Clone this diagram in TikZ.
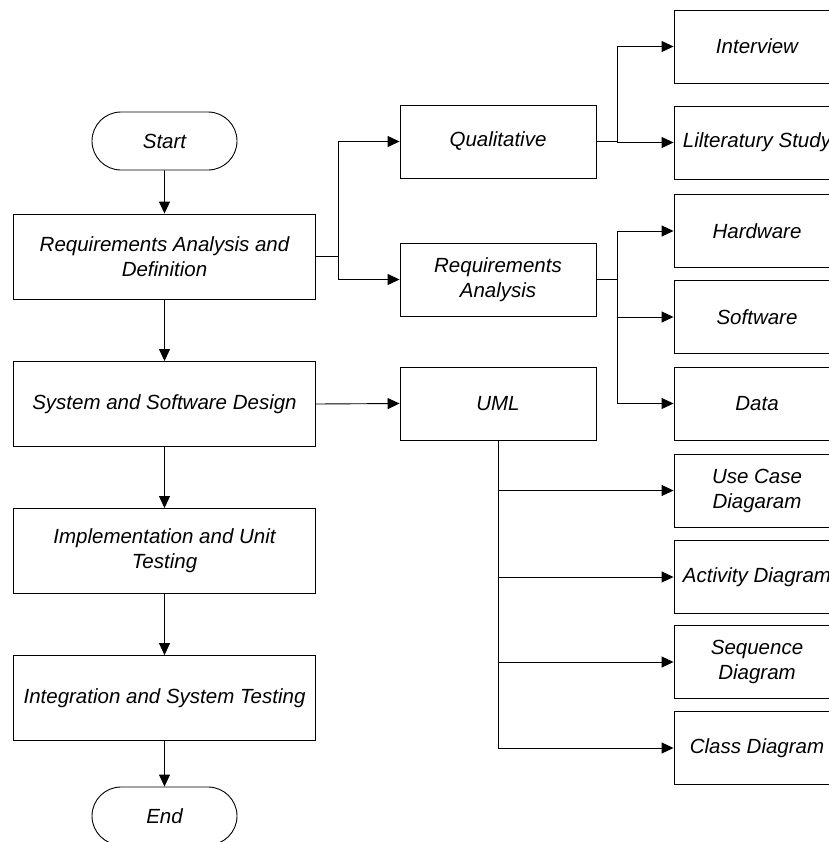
\documentclass[tikz,border=0pt]{standalone}
\usepackage{fontspec}
\setmainfont{Liberation Sans}
\usetikzlibrary{arrows.meta,shapes.misc}
\begin{document}
\begin{tikzpicture}[x=1bp,y=-1bp,
  base/.style={draw, line width=0.9bp, align=center, inner sep=0pt,
    font=\fontsize{20.5bp}{25bp}\selectfont\itshape},
  lbox/.style={base, minimum width=302bp, minimum height=85bp},
  mbox/.style={base, minimum width=196bp, minimum height=73bp},
  rbox/.style={base, minimum width=166bp, minimum height=73bp},
  term/.style={base, rounded rectangle, minimum width=145bp, minimum height=58bp},
  arr/.style={draw, line width=0.9bp, -{Triangle[length=12bp,width=11bp]}}]
\clip (0,0) rectangle (829,842);
% left column
\node[term] (start) at (164.5,141) {Start};
\node[lbox] (ra) at (164.5,256.5) {Requirements Analysis and\\Definition};
\node[lbox] (sd) at (164.5,404) {System and Software Design};
\node[lbox] (impl) at (164.5,551) {Implementation and Unit\\Testing};
\node[lbox] (integ) at (164.5,698) {Integration and System Testing};
\node[term] (end) at (164.5,816) {End};
% middle column
\node[mbox] (qual) at (498,141.5) {Qualitative};
\node[mbox] (reqan) at (498,279.5) {Requirements\\Analysis};
\node[mbox] (uml) at (498,403.5) {UML};
% right column
\node[rbox] (interview) at (757,46.5) {Interview};
\node[rbox] (lit) at (757,142.5) {Lilteratury Study};
\node[rbox] (hw) at (757,231) {Hardware};
\node[rbox] (sw) at (757,317) {Software};
\node[rbox] (data) at (757,403.5) {Data};
\node[rbox] (usecase) at (757,490.5) {Use Case\\Diagaram};
\node[rbox] (activity) at (757,577) {Activity Diagram};
\node[rbox] (sequence) at (757,662) {Sequence\\Diagram};
\node[rbox] (class) at (757,748) {Class Diagram};
% main flow
\draw[arr] (start) -- (ra);
\draw[arr] (ra) -- (sd);
\draw[arr] (sd) -- (impl);
\draw[arr] (impl) -- (integ);
\draw[arr] (integ) -- (end);
% branches
\draw[arr] (ra.east) -- ++(22,0) |- (qual.west);
\draw[arr] (ra.east) -- ++(22,0) |- (reqan.west);
\draw[arr] (sd.east) -- (uml.west);
\draw[arr] (qual.east) -- ++(21,0) |- (interview.west);
\draw[arr] (qual.east) -- ++(21,0) |- (lit.west);
\draw[arr] (reqan.east) -- ++(21,0) |- (hw.west);
\draw[arr] (reqan.east) -- ++(21,0) |- (sw.west);
\draw[arr] (reqan.east) -- ++(21,0) |- (data.west);
\draw[arr] (uml.south) |- (usecase.west);
\draw[arr] (uml.south) |- (activity.west);
\draw[arr] (uml.south) |- (sequence.west);
\draw[arr] (uml.south) |- (class.west);
\end{tikzpicture}
\end{document}
